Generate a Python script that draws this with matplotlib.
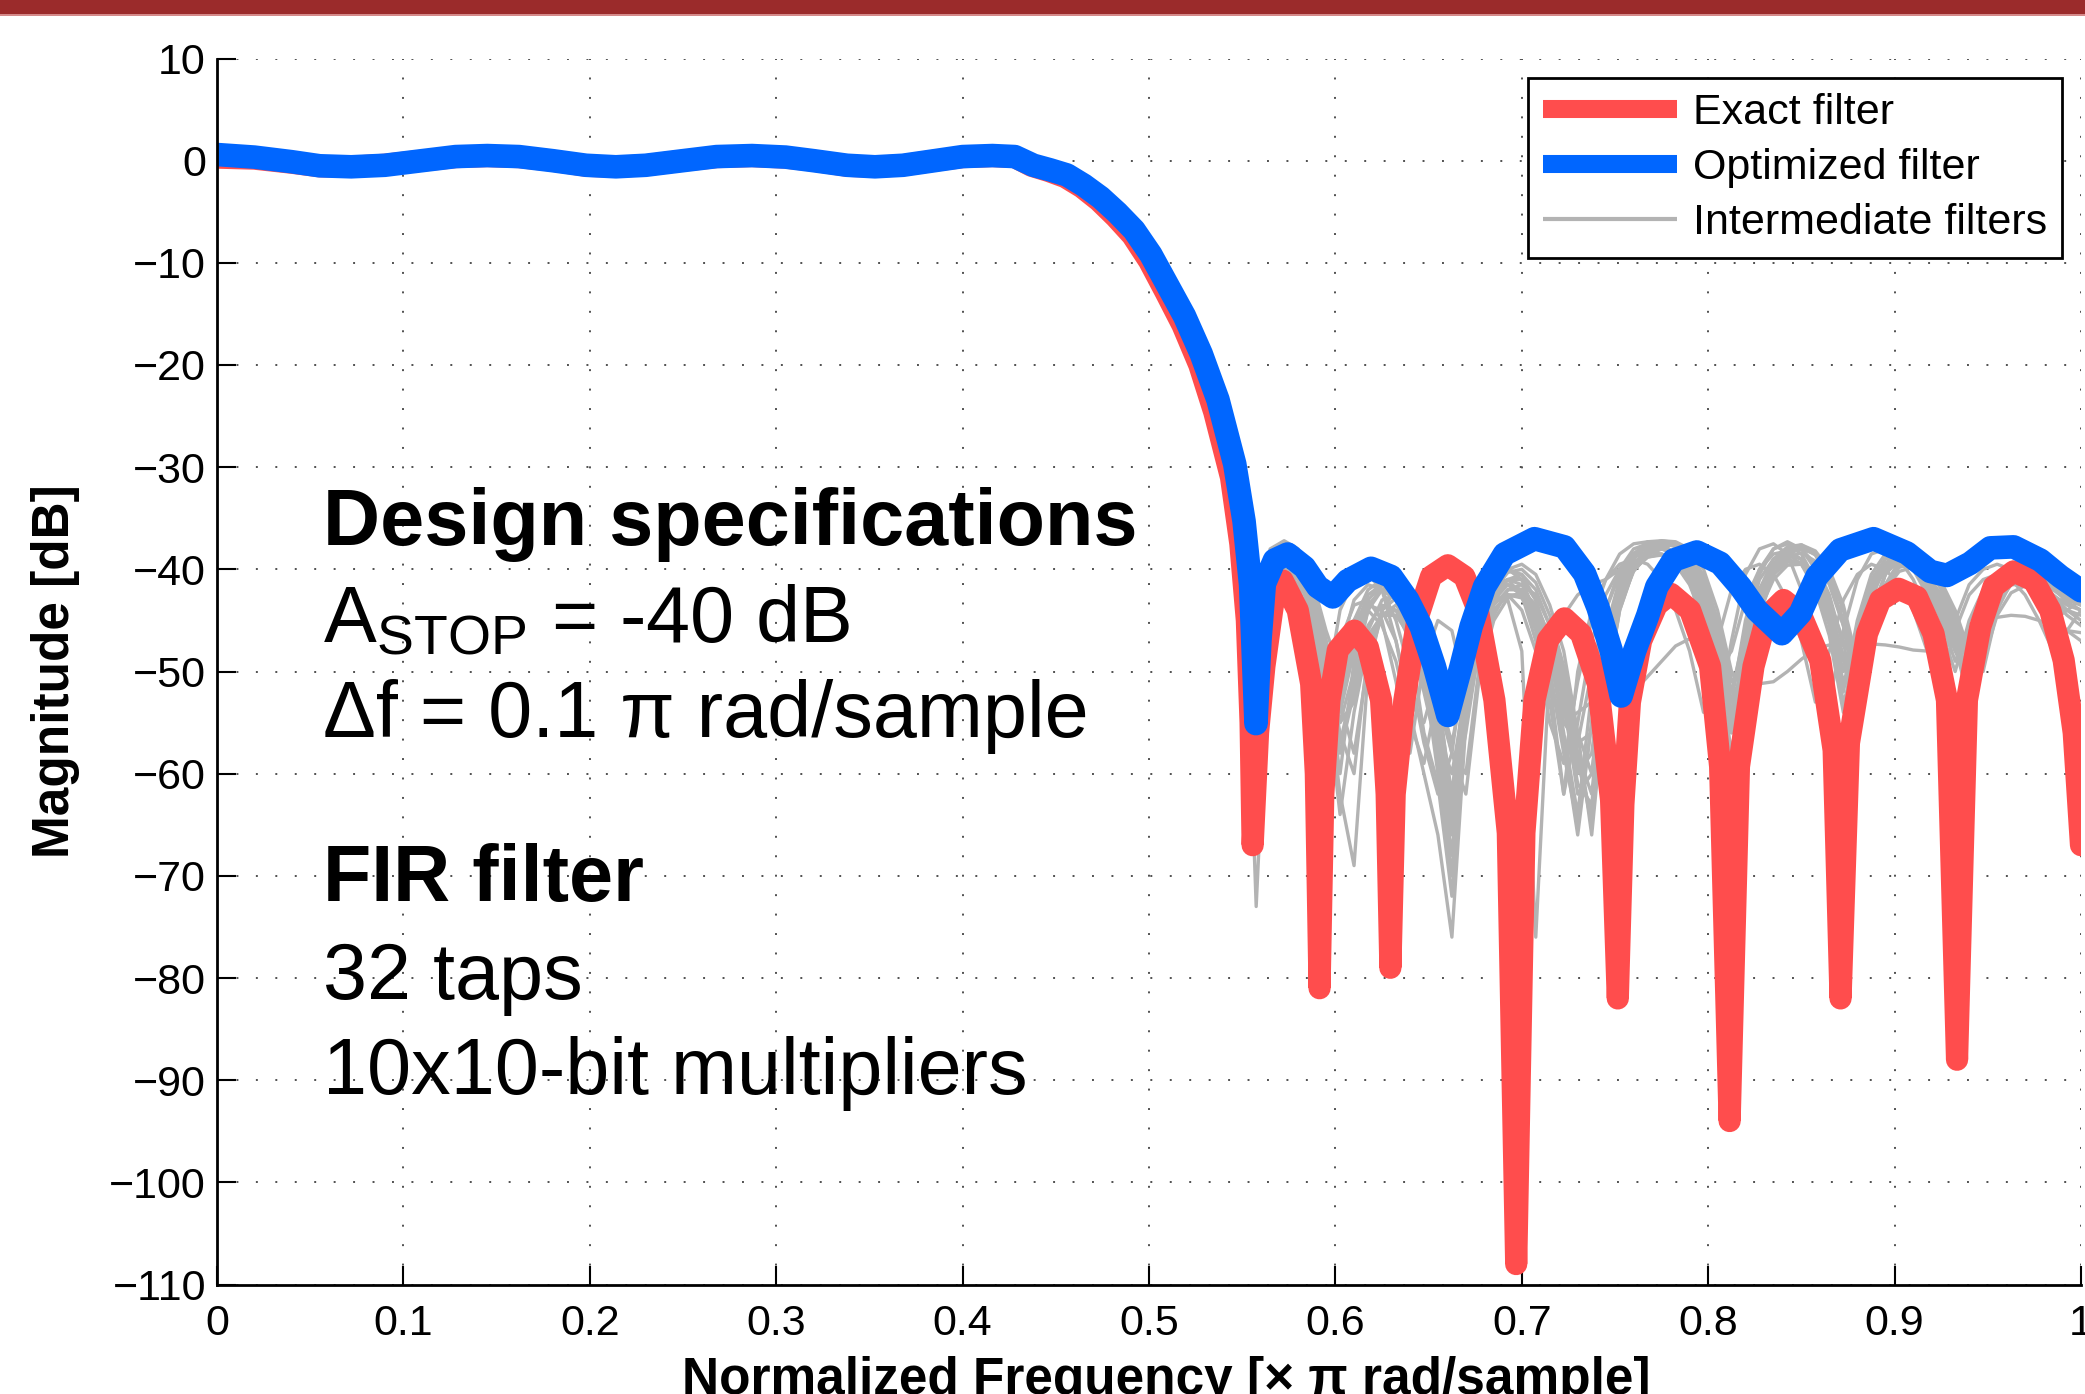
import matplotlib
matplotlib.use("Agg")
import matplotlib.pyplot as plt
from matplotlib.patches import Rectangle

plt.rcParams['font.family'] = ['Liberation Sans', 'DejaVu Sans']
plt.rcParams['mathtext.fontset'] = 'custom'
plt.rcParams['mathtext.rm'] = 'Liberation Sans'
plt.rcParams['mathtext.it'] = 'Liberation Sans:italic'
plt.rcParams['mathtext.bf'] = 'Liberation Sans:bold'

# ---------------- data ----------------
# Exact filter (red)
red_x = [0.000, 0.020, 0.040, 0.055, 0.072, 0.090, 0.110, 0.128, 0.145, 0.162, 0.180, 0.198,
         0.214, 0.230, 0.250, 0.268, 0.287, 0.305, 0.320, 0.338, 0.353, 0.368, 0.385, 0.400,
         0.416, 0.428, 0.437, 0.446, 0.455, 0.464, 0.473, 0.482, 0.491, 0.500, 0.509, 0.518,
         0.527, 0.535, 0.544, 0.549, 0.5525, 0.5545, 0.5556,
         0.5585, 0.5619, 0.5673, 0.5717, 0.5798, 0.5870, 0.5895, 0.5915, 0.5935, 0.5968,
         0.6013, 0.6102, 0.6174, 0.6245, 0.6275, 0.6295, 0.6318, 0.6370, 0.6442, 0.6513,
         0.6603, 0.6692, 0.6764, 0.6853, 0.6925, 0.6970, 0.7014, 0.7068, 0.7140, 0.7229,
         0.7318, 0.7408, 0.7479, 0.7515, 0.7545, 0.7580, 0.7640, 0.7724, 0.7800, 0.7903,
         0.8010, 0.8064, 0.8115, 0.8165, 0.8243, 0.8315, 0.8404, 0.8494, 0.8601, 0.8673,
         0.8710, 0.8755, 0.8852, 0.8923, 0.9021, 0.9120, 0.9209, 0.9281, 0.9335, 0.9388,
         0.9460, 0.9531, 0.9639, 0.9746, 0.9835, 0.9907, 0.9961, 1.0000]
red_db = [0.3, 0.2, -0.2, -0.55, -0.6, -0.4, 0.0, 0.35, 0.45, 0.35, 0.0, -0.5,
          -0.6, -0.45, 0.0, 0.35, 0.45, 0.3, 0.0, -0.5, -0.6, -0.45, 0.0, 0.35,
          0.45, 0.35, -0.5, -1.0, -1.6, -2.6, -3.9, -5.5, -7.3, -9.8, -12.9, -16.1,
          -20.0, -24.6, -31.0, -37.5, -45.0, -55.0, -67.0,
          -56.0, -49.5, -42.4, -41.1, -44.0, -51.2, -60.0, -81.0, -62.0, -52.8,
          -47.9, -46.0, -47.6, -52.8, -62.0, -79.0, -62.0, -52.8, -44.7, -40.7,
          -39.6, -40.7, -44.0, -52.8, -65.8, -108.0, -65.8, -52.8, -46.9, -44.8,
          -46.3, -51.2, -62.6, -82.0, -63.0, -53.0, -47.0, -43.5, -42.4, -44.0,
          -49.5, -59.3, -94.0, -59.3, -49.5, -44.6, -43.0, -44.3, -48.9, -57.7,
          -82.0, -57.0, -46.3, -43.0, -41.9, -42.7, -46.3, -52.8, -88.0, -52.8,
          -45.6, -41.7, -40.2, -41.1, -44.0, -48.9, -56.0, -67.0]

# Optimized filter (blue)
blue_x = [0.000, 0.020, 0.040, 0.055, 0.072, 0.090, 0.110, 0.128, 0.145, 0.162, 0.180, 0.198,
          0.214, 0.230, 0.250, 0.268, 0.287, 0.305, 0.320, 0.338, 0.353, 0.368, 0.385, 0.400,
          0.416, 0.428, 0.438, 0.447, 0.456, 0.465, 0.474, 0.483, 0.492, 0.501, 0.510, 0.519,
          0.528, 0.537, 0.546, 0.551, 0.5545,
          0.5574, 0.5595, 0.5619, 0.5673, 0.5744, 0.5834, 0.5905, 0.5986, 0.6066, 0.6191,
          0.6299, 0.6388, 0.6460, 0.6531, 0.6603, 0.6674, 0.6728, 0.6800, 0.6907, 0.7068,
          0.7229, 0.7336, 0.7408, 0.7479, 0.7533, 0.7605, 0.7676, 0.7724, 0.7814, 0.7939,
          0.8064, 0.8172, 0.8261, 0.8395, 0.8494, 0.8583, 0.8708, 0.8887, 0.9066, 0.9191,
          0.9281, 0.9406, 0.9513, 0.9639, 0.9782, 0.9889, 1.0000]
blue_db = [0.6, 0.35, -0.1, -0.5, -0.6, -0.45, 0.0, 0.4, 0.5, 0.4, 0.0, -0.45,
           -0.6, -0.45, 0.0, 0.4, 0.5, 0.35, 0.0, -0.45, -0.6, -0.45, 0.0, 0.4,
           0.5, 0.4, -0.45, -0.9, -1.4, -2.4, -3.6, -5.1, -6.8, -9.2, -12.2, -15.2,
           -18.9, -23.4, -29.7, -35.3, -41.5,
           -55.1, -47.0, -41.4, -39.1, -38.5, -39.8, -41.7, -42.7, -41.1, -39.9,
           -40.7, -43.0, -45.6, -49.5, -54.3, -49.5, -45.6, -41.7, -38.5, -37.0,
           -37.8, -40.4, -43.7, -47.9, -52.4, -48.0, -44.5, -41.7, -39.1, -38.3,
           -39.4, -41.7, -44.0, -46.3, -44.3, -40.7, -38.1, -37.0, -38.4, -40.2,
           -40.6, -39.4, -37.9, -37.8, -39.1, -40.7, -42.1]

# Intermediate filters (gray): stop-band samples on a common frequency list
gray_x = [0.55, 0.5575, 0.565, 0.5725, 0.58, 0.5875, 0.595, 0.6025, 0.61, 0.6175,
          0.625, 0.6325, 0.64, 0.6475, 0.655, 0.6625, 0.67, 0.6775, 0.685, 0.6925,
          0.70, 0.7075, 0.715, 0.7225, 0.73, 0.7375, 0.745, 0.7525, 0.76, 0.7675,
          0.775, 0.7825, 0.79, 0.7975, 0.805, 0.8125, 0.82, 0.8275, 0.835, 0.8425,
          0.85, 0.8575, 0.865, 0.8725, 0.88, 0.8875, 0.895, 0.9025, 0.91, 0.9175,
          0.925, 0.9325, 0.94, 0.9475, 0.955, 0.9625, 0.97, 0.9775, 0.985, 0.9925, 1.0]
gray_db = [
    [-34, -73, -44, -40.5, -42, -49, -56, -47, -43.5, -43, -45, -51, -58, -49, -45, -46, -52, -48, -43, -41.5,
     -42.5, -46, -53, -62, -50, -44, -41, -39.5, -39, -39.5, -41, -44, -48, -54, -47, -42, -40, -39.5, -40.5, -43,
     -47, -53, -48, -43, -40.5, -39.5, -40, -41.5, -44, -48, -51, -46, -42.5, -41, -40.5, -41, -42.5, -45, -48, -46, -44],
    [-35, -46, -39.5, -38, -39, -43, -52, -44, -41, -40.5, -42, -47, -54, -60, -66, -76, -55, -46, -42, -40,
     -40.5, -43, -48, -56, -64, -52, -44, -40, -38, -37.5, -37.5, -38.5, -41, -46, -55, -47, -40.5, -38, -37.5, -38.5,
     -42, -47, -53, -46, -41, -38.5, -38, -39, -41, -44, -49, -45, -41.5, -40, -39.5, -40, -41.5, -43.5, -45, -44, -43],
    [-35, -52, -41, -39, -40, -44, -51, -62, -69, -50, -44, -42, -43, -47, -53, -62, -50, -44, -41.5, -41,
     -42.5, -47, -55, -59, -51, -45, -41, -38.5, -37.5, -37.3, -37.5, -38.5, -40.5, -44, -49, -53, -45, -40, -38, -37.5,
     -38.5, -41, -45, -52, -45, -40.5, -38.5, -38.5, -40, -42.5, -46, -50, -45, -42, -40.5, -40, -40.5, -42, -43.5, -43, -42],
    [-34, -48, -40, -38.5, -40, -45, -55, -48, -43, -41.5, -42, -45, -50, -57, -62, -58, -48, -43, -40.5, -40,
     -41, -44.5, -50, -57, -66, -55, -46, -41, -38.5, -37.5, -37.3, -37.8, -39.5, -42.5, -47, -56, -46, -40.5, -38, -37.3,
     -38, -40, -43.5, -49, -47, -41.5, -39, -38, -39, -41, -44, -48, -47, -43, -41, -40, -40, -41, -42, -42, -41.5],
    [-35, -47, -41, -40, -41.5, -46, -53, -49, -45, -44, -45.5, -49, -55, -59, -52, -57, -50, -45, -43, -42.5,
     -44, -48, -52, -55, -54, -53, -52.5, -52.5, -52, -50.5, -49, -47.5, -46.8, -47.5, -49, -50.3, -51, -51.2, -51, -50,
     -48.8, -47.8, -47.4, -47.4, -47.3, -47.3, -47.4, -47.6, -47.9, -48, -47.8, -47, -46, -45.2, -44.7, -44.5, -44.6, -45, -45.6, -46, -46.2],
    [-34, -45, -38.5, -37.5, -38.5, -42, -48, -54, -48, -43.5, -42, -43, -46, -51, -57, -68, -53, -46, -42.5, -41,
     -41, -43, -47, -53, -61, -63, -50, -43, -39.5, -38, -37.5, -37.5, -38.5, -41, -45, -51, -49, -42.5, -39.5, -38,
     -38, -39.5, -42.5, -47.5, -48, -42.5, -39.5, -38.5, -39, -40.5, -43, -46.5, -49, -44, -41.5, -40.5, -40.5, -41.5, -43, -44, -44.5],
    [-34, -50, -42, -40, -40.5, -43.5, -49, -57, -51, -45.5, -43.5, -44, -47, -52, -58, -62, -52, -46, -43, -43,
     -48, -76, -49, -44.5, -42.5, -41.5, -41, -40, -38.5, -37.8, -37.8, -38.5, -40, -43, -48, -55, -47, -42, -39.5, -38.5,
     -39, -41, -44.5, -50, -46, -41.5, -39.5, -39, -40, -42, -45, -49, -46, -42.5, -41, -40.5, -41, -42.5, -44.5, -46, -47],
    [-35, -55, -43, -41, -42, -47, -60, -50, -45, -43.5, -44, -47, -53, -55, -50, -55, -48, -44, -42, -41.5,
     -42.5, -45, -49, -54, -58, -65, -52, -44, -40, -38.5, -38, -38.5, -40, -43, -47.5, -52, -46, -41, -39, -38.5,
     -39.5, -42, -46.5, -54, -46, -41, -39, -38.5, -39.5, -41.5, -44.5, -48, -51, -45, -42, -40.5, -40, -40.5, -41.5, -42.5, -43],
    [-34, -44, -38, -37.2, -38, -41, -46, -50, -45, -42, -41, -42, -45, -50, -60, -70, -52, -45, -41.5, -40,
     -39.5, -40.5, -43.5, -48, -56, -60, -48, -41.5, -38.5, -37.3, -37.2, -37.3, -38, -40, -44, -50, -52, -44, -40, -38.5,
     -38, -38.5, -40.5, -44, -50, -43, -39.5, -38, -38, -39.5, -42, -45, -49, -45, -41.5, -40, -39.5, -40, -41, -41.5, -41],
    [-35, -49, -40.5, -39, -39.5, -42.5, -47.5, -55, -53, -46, -43, -42.5, -44, -48, -54, -64, -51, -45, -42, -41,
     -41.5, -44, -48.5, -55, -57, -50, -44, -40.5, -38.5, -37.8, -37.8, -38.8, -41, -45, -52, -56, -47, -42, -39.5, -38.5,
     -39, -41, -44, -48.5, -52, -44, -40.5, -39, -39, -40.5, -43, -47, -52, -46, -42.5, -41, -40.5, -41, -42.5, -43.5, -44],
    [-34, -46, -39.5, -38.5, -39.5, -43, -49, -52, -46, -42.5, -41.5, -43, -47, -56, -61, -72, -54, -46, -42.5, -41.5,
     -42, -45, -51, -62, -55, -47, -42.5, -40, -38.8, -38.3, -38.5, -39.5, -41.5, -45, -50, -48, -43, -40, -38.5, -38.2,
     -39, -41, -45, -51, -47.5, -42, -39.8, -39, -39.5, -41, -43.5, -47, -50, -45, -42.5, -41.5, -41.5, -42, -43, -43, -42.5],
    [-35, -51, -41.5, -39.5, -40, -43, -48, -53, -58, -49, -44.5, -43.5, -45, -49, -56, -60, -52, -46.5, -43.5, -42,
     -42, -43.5, -46.5, -51, -57, -56, -47, -42, -39.5, -38.3, -38, -38.5, -40, -43, -48, -54, -48, -42.5, -40, -39,
     -39.5, -41.5, -45.5, -53, -49, -42.5, -40, -39.5, -40, -41.5, -44, -47.5, -53, -47, -43, -41, -40.5, -41, -42, -43, -43.5],
    [-34, -47, -39, -37.8, -38.8, -42, -47, -55, -50, -44, -41.5, -41, -42.5, -46, -52, -63, -56, -47, -43, -41,
     -40.5, -42, -45.5, -51, -60, -58, -47, -41.5, -38.8, -37.6, -37.3, -37.6, -38.8, -41.5, -46, -53, -50, -43, -39.5, -38,
     -37.6, -38.2, -40, -43.5, -49, -44.5, -40.5, -38.7, -38.5, -39.5, -41.5, -44.5, -48.5, -46, -42.5, -40.8, -40.2, -40.5, -41.5, -42.5, -42.5],
    [-35, -53, -42.5, -40.5, -41, -44, -50, -58, -52, -46.5, -44.5, -44.5, -46.5, -51, -57, -65, -53, -47, -44, -42.5,
     -42.5, -44.5, -48, -53, -62, -60, -49, -43, -40, -38.8, -38.5, -39, -40.5, -43.5, -48.5, -58, -49, -43.5, -40.5, -39.3,
     -39.3, -40.5, -43, -47, -55, -46, -41.5, -39.8, -39.5, -40.5, -42.5, -45.5, -49.5, -47.5, -43.5, -41.5, -41, -41.3, -42.5, -44, -45],
    [-34, -44.5, -38.2, -37.4, -38.3, -41.5, -47, -53, -47, -43, -41.5, -41.8, -44, -48.5, -55, -66, -53, -45.5, -42, -40.3,
     -40, -41.3, -44.5, -49.5, -58, -62, -49, -42, -39, -37.6, -37.2, -37.4, -38.4, -40.6, -45, -52, -51, -43.5, -39.8, -38.2,
     -37.8, -38.6, -41, -45.5, -53, -45, -40.5, -38.5, -38.2, -39.2, -41.3, -44.5, -49, -46, -42, -40.3, -39.8, -40.3, -41.5, -42.8, -43.5],
    [-35, -50, -41.8, -40, -40.8, -44.5, -52, -64, -54, -47, -44.5, -44, -45.5, -50, -58, -70, -55, -47.5, -44, -42.5,
     -42.8, -45.5, -50, -58, -65, -55, -47, -42.5, -40, -38.8, -38.6, -39.4, -41.3, -44.5, -50, -60, -50, -44, -41, -39.6,
     -39.5, -40.8, -43.6, -48.5, -57, -47, -42, -40.2, -39.8, -40.6, -42.6, -46, -51, -49, -44.5, -42.3, -41.6, -41.8, -43, -44.5, -45.5],
    [-34, -45.5, -39, -38, -39.2, -43, -50, -60, -49, -44, -42, -42, -44, -48, -53, -58, -60, -49, -44.5, -42,
     -41.5, -42.5, -45.5, -50, -56, -66, -52, -44, -40, -38.2, -37.6, -37.7, -38.8, -41.3, -46, -55, -48, -42, -39, -37.8,
     -37.6, -38.5, -41, -45, -51, -47, -41.5, -39.2, -38.6, -39.3, -41.2, -44, -48, -50, -44, -41.3, -40.3, -40.3, -41.3, -42.5, -43],
    [-35, -48.5, -40.5, -39.2, -40, -43.5, -49, -56, -60, -48, -44, -42.8, -43.5, -46.5, -51.5, -58, -62, -50, -45, -42.8,
     -42.2, -43.5, -47, -52, -59, -64, -50, -43.5, -40.2, -38.6, -38, -38.2, -39.4, -42, -46.5, -54, -53, -44.5, -40.5, -38.8,
     -38.4, -39.2, -41.5, -45.5, -52, -48, -42, -39.6, -39, -39.6, -41.6, -44.8, -49.5, -48.5, -43.5, -41.2, -40.4, -40.6, -41.8, -43.2, -44],
]

xticks = [0, 0.1, 0.2, 0.3, 0.4, 0.5, 0.6, 0.7, 0.8, 0.9, 1]
xtick_labels = ['0', '0.1', '0.2', '0.3', '0.4', '0.5', '0.6', '0.7', '0.8', '0.9', '1']
yticks = [10, 0, -10, -20, -30, -40, -50, -60, -70, -80, -90, -100, -110]

legend_labels = ['Exact filter', 'Optimized filter', 'Intermediate filters']
spec_lines = [('Design specifications', 'bold', -37.6),
              (r'A$_{\mathrm{STOP}}$ = -40 dB', 'normal', -47.1),
              ('\u0394f = 0.1 \u03c0 rad/sample', 'normal', -56.4),
              ('FIR filter', 'bold', -72.5),
              ('32 taps', 'normal', -82.1),
              ('10x10-bit multipliers', 'normal', -91.4)]

# ---------------- figure ----------------
W, H = 2085, 1394
fig = plt.figure(figsize=(W / 100, H / 100), dpi=100)
ax = fig.add_axes([217 / W, 1 - 1284.5 / H, (2081 - 217) / W, (1284.5 - 58.5) / H])

RED = '#FF4D4D'
BLUE = '#0066FF'
GRAY = '#B3B3B3'

# gray curves share the pass-band / transition part of the optimized filter
prefix_x = [x for x in blue_x if x < 0.55]
prefix_db = blue_db[:len(prefix_x)]
gray_handle = None
for g in gray_db:
    ln, = ax.plot(prefix_x + gray_x, prefix_db + g, color=GRAY, lw=2.4, zorder=2,
                  solid_joinstyle='round')
    if gray_handle is None:
        gray_handle = ln

red_line, = ax.plot(red_x, red_db, color=RED, lw=16, zorder=3,
                    solid_capstyle='round', solid_joinstyle='round')
blue_line, = ax.plot(blue_x, blue_db, color=BLUE, lw=17, zorder=4,
                     solid_capstyle='round', solid_joinstyle='round')

ax.set_xlim(0, 1)
ax.set_ylim(-110, 10)
ax.set_xticks(xticks)
ax.set_xticklabels(xtick_labels)
ax.set_yticks(yticks)

ax.grid(True, color='#505050', linestyle=(0, (1, 9)), linewidth=1.4, zorder=0)
ax.set_axisbelow(True)

for s in ['top', 'right']:
    ax.spines[s].set_visible(False)
for s in ['left', 'bottom']:
    ax.spines[s].set_linewidth(2.0)
    ax.spines[s].set_zorder(5)

ax.tick_params(axis='both', direction='in', length=14, width=1.5, labelsize=31,
               top=False, right=False)
ax.tick_params(axis='x', pad=14)
ax.tick_params(axis='y', pad=8)

ax.set_xlabel('Normalized Frequency [\u00d7 \u03c0 rad/sample]', fontsize=37, fontweight='bold')
ax.set_ylabel('Magnitude [dB]', fontsize=37, fontweight='bold')
ax.xaxis.set_label_coords(0.509, -0.058)
ax.yaxis.set_label_coords(-0.0735, 0.5)

leg = ax.legend([red_line, blue_line, gray_handle], legend_labels,
                loc='upper right', bbox_to_anchor=(0.9898, 0.9841), borderaxespad=0,
                fontsize=31, handlelength=3.1, handletextpad=0.37, labelspacing=0.35,
                borderpad=0.35, fancybox=False, framealpha=1, edgecolor='black')
leg.get_frame().set_linewidth(2.0)
leg.set_zorder(10)
for h, lw in zip(leg.get_lines(), [13, 13, 3]):
    h.set_linewidth(lw)
    h.set_solid_capstyle('butt')

for txt, wt, yv in spec_lines:
    ax.text(0.0569, yv, txt, fontsize=57, fontweight=wt, ha='left', va='baseline',
            zorder=6)

# top banner
fig.add_artist(Rectangle((0, 1 - 14 / H), 1, 14 / H, transform=fig.transFigure,
                         facecolor='#9B2B2B', edgecolor='none'))
fig.add_artist(Rectangle((0, 1 - 16 / H), 1, 2 / H, transform=fig.transFigure,
                         facecolor='#D58A8A', edgecolor='none'))

fig.savefig('out.png', dpi=100)
